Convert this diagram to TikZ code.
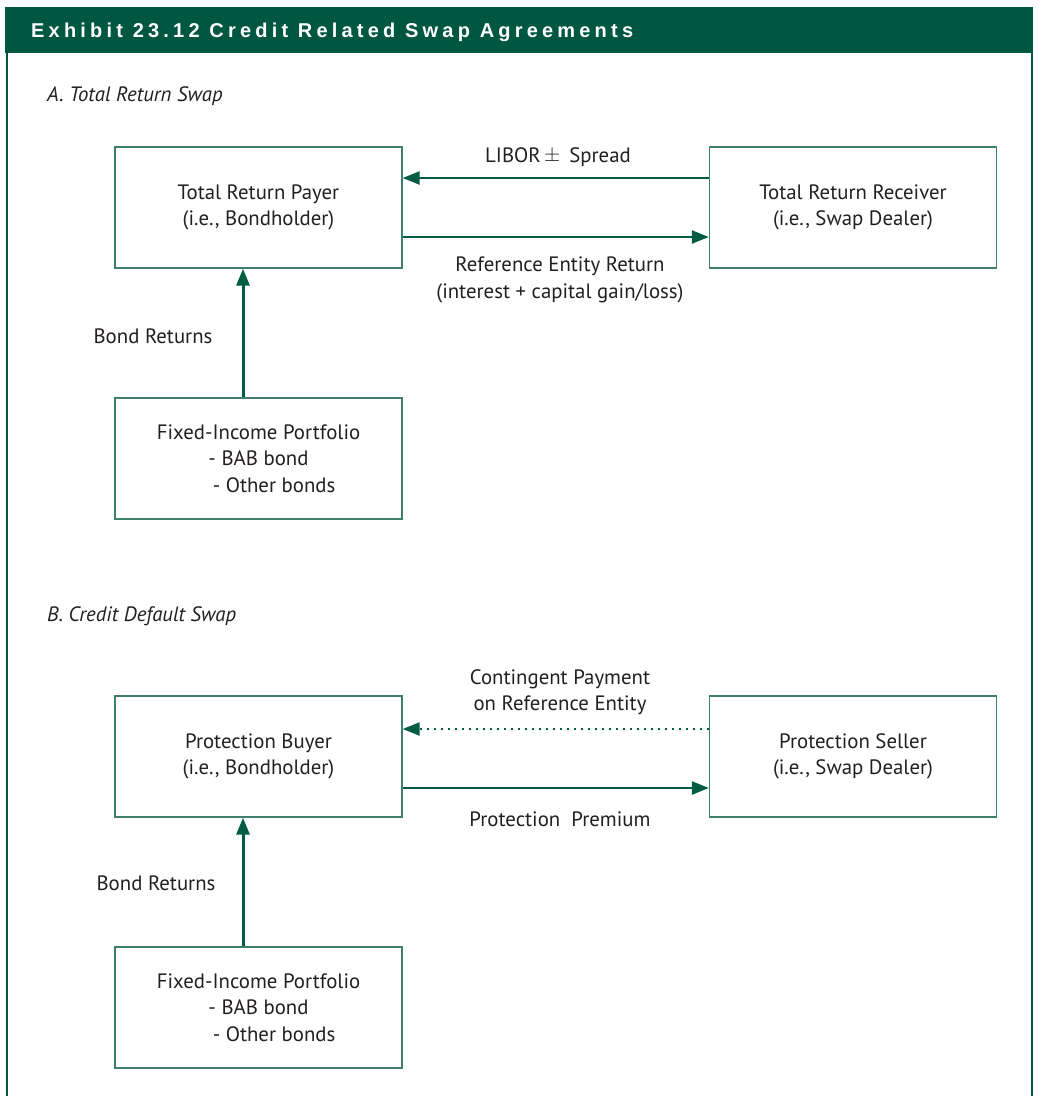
\documentclass[tikz,border=0pt]{standalone}
\usepackage{fontspec}
\setmainfont{PT Sans}
\newfontfamily\headfont[LetterSpace=21]{Liberation Sans Bold}
\usetikzlibrary{arrows.meta}
\definecolor{hdgreen}{HTML}{00573F}
\definecolor{boxgreen}{HTML}{3D7F6C}
\definecolor{arrgreen}{HTML}{005C42}
\definecolor{txt}{HTML}{231F20}
\tikzset{
  box/.style={draw=boxgreen, line width=1.4pt, minimum width=287pt, minimum height=121pt, align=center, text=txt, font=\fontsize{20.8}{26.5}\selectfont, inner sep=0pt},
  lab/.style={text=txt, font=\fontsize{20.8}{26.5}\selectfont, align=center, inner sep=0pt},
  sec/.style={text=txt, font=\fontsize{20.8}{24}\selectfont\itshape, anchor=west, inner sep=0pt},
  flow/.style={draw=arrgreen, line width=2.4pt, -{Triangle[length=17pt,width=13pt]}},
  vflow/.style={draw=arrgreen, line width=3pt, -{Triangle[length=17pt,width=13pt]}},
  dflow/.style={draw=arrgreen, line width=2.4pt, dash pattern=on 2pt off 5pt, -{Triangle[length=17pt,width=13pt]}},
}
\begin{document}
\begin{tikzpicture}[x=1pt,y=-1pt]
\useasboundingbox (0,0) rectangle (1038,1096);
% header and frame
\fill[hdgreen] (5,7) rectangle (1033,53);
\draw[hdgreen, line width=2pt] (6.5,53) -- (6.5,1096);
\draw[hdgreen, line width=2pt] (1031.5,53) -- (1031.5,1096);
\node[anchor=base west, text=white, font=\headfont\fontsize{20}{22}\selectfont, inner sep=0pt] (title) at (31,37.3) {Exhibit 23.12 Credit Related Swap Agreements};

% Section A
\node[sec] (secA) at (47,96) {A. Total Return Swap};
\node[box] (payer) at (258.5,207.5) {Total Return Payer\\(i.e., Bondholder)};
\node[box] (receiver) at (853,207.5) {Total Return Receiver\\(i.e., Swap Dealer)};
\node[box] (portA) at (258.5,458.5) {Fixed-Income Portfolio\\- BAB bond\\\hspace*{1.5em}- Other bonds};

\coordinate (rA1) at (receiver.west |- 0,178);
\coordinate (pA1) at (payer.east |- 0,178);
\draw[flow] (rA1) -- (pA1);
\coordinate (pA2) at (payer.east |- 0,237);
\coordinate (rA2) at (receiver.west |- 0,237);
\draw[flow] (pA2) -- (rA2);
\coordinate (pAb) at (243,0 |- payer.south);
\coordinate (fAt) at (243,0 |- portA.north);
\draw[vflow] (fAt) -- (pAb);

\node[lab] (libor) at (558,157) {LIBOR\,\raisebox{0.1ex}{$\pm$}\, Spread};
\node[lab] (refret) at (560,280) {Reference Entity Return\\(interest + capital gain/loss)};
\node[lab] (bondA) at (153,336) {Bond Returns};

% Section B
\node[sec] (secB) at (47,616) {B. Credit Default Swap};
\node[box] (buyer) at (258.5,756.5) {Protection Buyer\\(i.e., Bondholder)};
\node[box] (seller) at (853,756.5) {Protection Seller\\(i.e., Swap Dealer)};
\node[box] (portB) at (258.5,1007.5) {Fixed-Income Portfolio\\- BAB bond\\\hspace*{1.5em}- Other bonds};

\coordinate (sB1) at (seller.west |- 0,729);
\coordinate (bB1) at (buyer.east |- 0,729);
\draw[dflow] (sB1) -- (bB1);
\coordinate (bB2) at (buyer.east |- 0,788);
\coordinate (sB2) at (seller.west |- 0,788);
\draw[flow] (bB2) -- (sB2);
\coordinate (bBb) at (243,0 |- buyer.south);
\coordinate (fBt) at (243,0 |- portB.north);
\draw[vflow] (fBt) -- (bBb);

\node[lab] (contpay) at (560,692) {Contingent Payment\\on Reference Entity};
\node[lab] (prem) at (560,819) {Protection\ \ Premium};
\node[lab] (bondB) at (156,883) {Bond Returns};
\end{tikzpicture}
\end{document}
